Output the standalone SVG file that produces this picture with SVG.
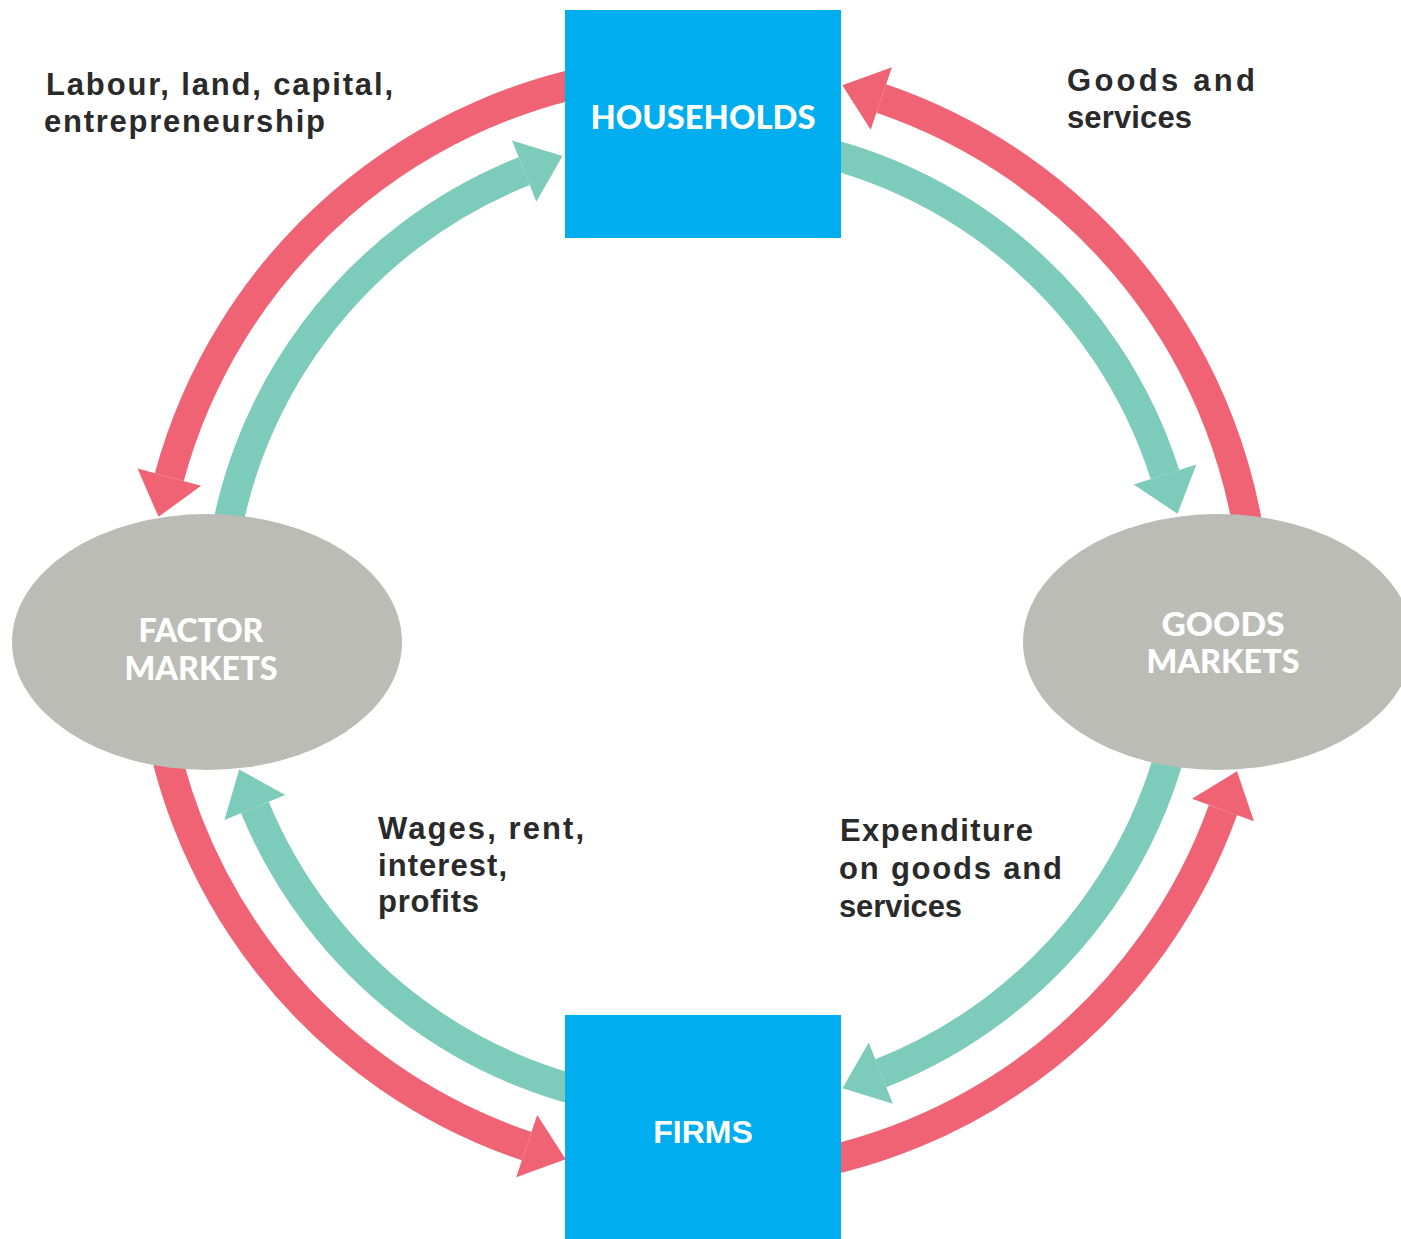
<svg xmlns="http://www.w3.org/2000/svg" width="1401" height="1239" viewBox="0 0 1401 1239">
  <defs>
    <style>
      .red { fill: none; stroke: #ef6374; stroke-width: 30; }
      .teal { fill: none; stroke: #7dcbbb; stroke-width: 30; }
      .box { fill: #00aeef; }
      .oval { fill: #bcbcb7; }
      .title { font-family: "Lato", "Liberation Sans", sans-serif; font-weight: 900; font-size: 32px; fill: #ffffff; text-anchor: middle; }
      .firms { font-family: "Liberation Sans", Arial, sans-serif; font-weight: bold; font-size: 32px; fill: #ffffff; text-anchor: middle; }
      .label { font-family: "Liberation Sans", Arial, sans-serif; font-weight: bold; font-size: 31px; fill: #2a2a2a; }
    </style>
    <marker id="headRed" markerUnits="userSpaceOnUse" markerWidth="44" markerHeight="70" viewBox="0 -34 42 68" refX="0" refY="0" orient="auto">
      <path d="M0,-32 L40,0 L0,32 Z" fill="#ef6374"/>
    </marker>
    <marker id="headTeal" markerUnits="userSpaceOnUse" markerWidth="44" markerHeight="70" viewBox="0 -34 42 68" refX="0" refY="0" orient="auto">
      <path d="M0,-32 L40,0 L0,32 Z" fill="#7dcbbb"/>
    </marker>
  </defs>
  <rect width="1401" height="1239" fill="#ffffff"/>

  <g id="connectors">
    <path class="red" d="M635.6,73.1 A553,553 0 0 0 169.3,477.1" marker-end="url(#headRed)"/>
    <path class="red" d="M152.1,670.2 A553,553 0 0 0 526.7,1146.1" marker-end="url(#headRed)"/>
    <path class="red" d="M770.4,1170.9 A553,553 0 0 0 1223.0,810.0" marker-end="url(#headRed)"/>
    <path class="red" d="M1253.9,573.8 A553,553 0 0 0 881.3,98.5" marker-end="url(#headRed)"/>
    <path class="teal" d="M219.8,579.7 A485,485 0 0 1 524.2,171.1" marker-end="url(#headTeal)"/>
    <path class="teal" d="M762.1,140.6 A485,485 0 0 1 1165.0,474.5" marker-end="url(#headTeal)"/>
    <path class="teal" d="M1186.2,664.3 A485,485 0 0 1 880.8,1073.2" marker-end="url(#headTeal)"/>
    <path class="teal" d="M643.9,1103.4 A485,485 0 0 1 254.9,807.5" marker-end="url(#headTeal)"/>
  </g>

  <g id="households">
    <rect class="box" x="565" y="10" width="276" height="228"/>
    <text class="title" x="703" y="129" textLength="225" lengthAdjust="spacingAndGlyphs">HOUSEHOLDS</text>
  </g>

  <g id="firms">
    <rect class="box" x="565" y="1015" width="276" height="224"/>
    <text class="firms" x="703" y="1143">FIRMS</text>
  </g>

  <g id="factor-markets">
    <ellipse class="oval" cx="207" cy="642" rx="195" ry="128"/>
    <text class="title" x="201" y="642" textLength="125" lengthAdjust="spacingAndGlyphs">FACTOR</text>
    <text class="title" x="201" y="680" textLength="153" lengthAdjust="spacingAndGlyphs">MARKETS</text>
  </g>

  <g id="goods-markets">
    <ellipse class="oval" cx="1218" cy="642" rx="195" ry="128"/>
    <text class="title" x="1223" y="636" textLength="123" lengthAdjust="spacingAndGlyphs">GOODS</text>
    <text class="title" x="1223" y="673" textLength="153" lengthAdjust="spacingAndGlyphs">MARKETS</text>
  </g>

  <g id="labels">
    <text class="label" x="46" y="95" textLength="347">Labour, land,  capital,</text>
    <text class="label" x="44" y="132" textLength="281">entrepreneurship</text>
    <text class="label" x="1067" y="91" textLength="188">Goods   and</text>
    <text class="label" x="1067" y="128" textLength="125">services</text>
    <text class="label" x="378" y="839" textLength="206">Wages, rent,</text>
    <text class="label" x="378" y="876" textLength="129">interest,</text>
    <text class="label" x="378" y="912" textLength="101">profits</text>
    <text class="label" x="840" y="841" textLength="193">Expenditure</text>
    <text class="label" x="839" y="879" textLength="223">on goods and</text>
    <text class="label" x="839" y="917" textLength="123">services</text>
  </g>
</svg>
